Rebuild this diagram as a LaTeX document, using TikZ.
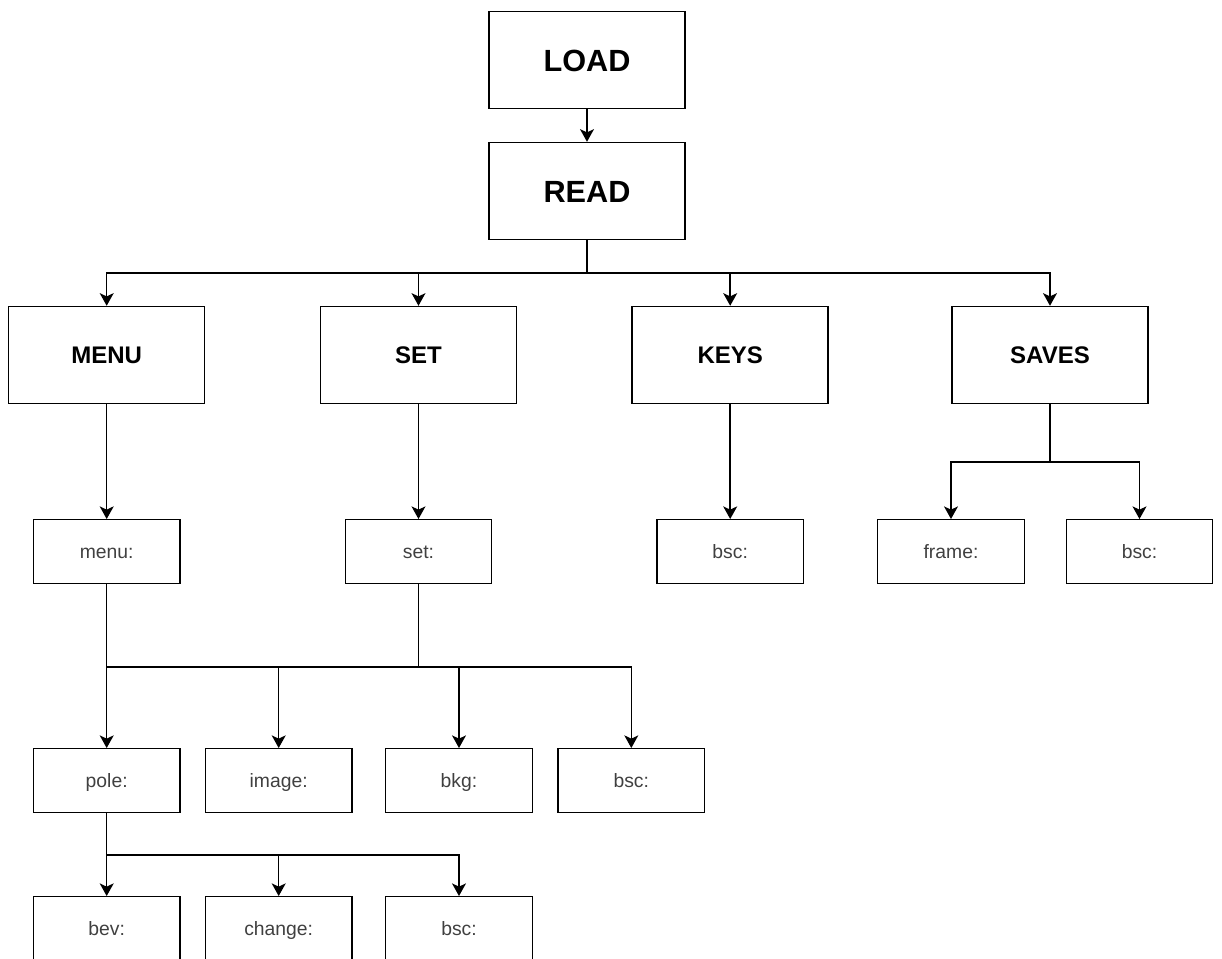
\documentclass[tikz,border=0pt]{standalone}
\usepackage{fontspec}
\setmainfont{Liberation Sans}
\usetikzlibrary{arrows.meta}
\definecolor{smalltext}{RGB}{64,64,64}
\tikzset{
  bigbox/.style={draw, line width=1.1pt, rectangle, inner sep=0pt,
    minimum width=196*0.75pt, minimum height=97*0.75pt,
    text height=12.9pt, text depth=0pt,
    font=\fontsize{18pt}{20pt}\selectfont\bfseries},
  topbox/.style={bigbox, text height=16.5pt,
    font=\fontsize{23pt}{25pt}\selectfont\bfseries},
  leafbox/.style={draw, line width=1.1pt, rectangle, inner sep=0pt,
    minimum width=146.5*0.75pt, minimum height=63.5*0.75pt,
    text height=10.5pt, text depth=0pt,
    text=smalltext, font=\fontsize{14.5pt}{16pt}\selectfont},
  link/.style={line width=1.1pt},
  arr/.style={link, -{Stealth[length=9.5pt, width=10.5pt, inset=2.5pt]}}
}
\begin{document}
\begin{tikzpicture}[x=0.75pt, y=-0.75pt]
  \useasboundingbox (0,0) rectangle (1222,958);

  % main chain
  \node[topbox] (load) at (587,60) {LOAD};
  \node[topbox] (read) at (587,191) {READ};

  % sections
  \node[bigbox] (menu)  at (106.7,355) {MENU};
  \node[bigbox] (set)   at (418.5,355) {SET};
  \node[bigbox] (keys)  at (730.2,355) {KEYS};
  \node[bigbox] (saves) at (1050,355) {SAVES};

  % first level handlers
  \node[leafbox] (menuh)  at (106.7,551.5) {menu:};
  \node[leafbox] (seth)   at (418.5,551.5) {set:};
  \node[leafbox] (keysb)  at (730.2,551.5) {bsc:};
  \node[leafbox] (frame)  at (951,551.5) {frame:};
  \node[leafbox] (savesb) at (1139.5,551.5) {bsc:};

  % settings entries
  \node[leafbox] (pole)  at (106.7,780.5) {pole:};
  \node[leafbox] (image) at (278.7,780.5) {image:};
  \node[leafbox] (bkg)   at (459,780.5) {bkg:};
  \node[leafbox] (setb)  at (631.3,780.5) {bsc:};

  % pole entries
  \node[leafbox] (bev)    at (106.7,928.5) {bev:};
  \node[leafbox] (change) at (278.7,928.5) {change:};
  \node[leafbox] (poleb)  at (459,928.5) {bsc:};

  % bus levels
  \coordinate (busread)  at (0,273);
  \coordinate (bussaves) at (0,462);
  \coordinate (busset)   at (0,667);
  \coordinate (buspole)  at (0,855);

  \draw[arr] (load) -- (read);

  \draw[arr] (read.south) -- (read.south |- busread) -| (menu.north);
  \draw[arr] (read.south |- busread) -| (set.north);
  \draw[arr] (read.south |- busread) -| (keys.north);
  \draw[arr] (read.south |- busread) -| (saves.north);

  \draw[arr] (menu) -- (menuh);
  \draw[arr] (set) -- (seth);
  \draw[arr] (keys) -- (keysb);
  \draw[arr] (saves.south) -- (saves.south |- bussaves) -| (frame.north);
  \draw[arr] (saves.south |- bussaves) -| (savesb.north);

  \draw[arr] (menuh) -- (pole);
  \draw[link] (seth.south) -- (seth.south |- busset) -- (menuh.south |- busset);
  \draw[arr] (seth.south |- busset) -| (image.north);
  \draw[arr] (seth.south |- busset) -| (bkg.north);
  \draw[arr] (seth.south |- busset) -| (setb.north);

  \draw[arr] (pole) -- (bev);
  \draw[arr] (pole.south |- buspole) -| (change.north);
  \draw[arr] (pole.south |- buspole) -| (poleb.north);
\end{tikzpicture}
\end{document}
